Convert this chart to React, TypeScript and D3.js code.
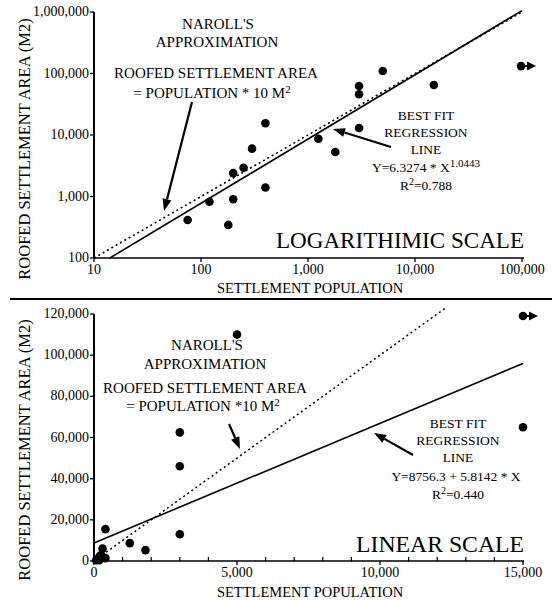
import React from "react";
import * as d3 from "d3";

// ---- Data ----
const population = [75, 120, 180, 200, 200, 250, 300, 400, 400, 1250, 1800, 3000, 3000, 3000, 5000, 15000];
const roofedArea = [415, 820, 345, 900, 2400, 2940, 6000, 1400, 15500, 8700, 5300, 13000, 46000, 62500, 110000, 65000];
// off-scale settlement (drawn at the edge with an arrow)
const outlierLog = [98000, 132000];
const outlierLinear = [15000, 119000];

const logXTicks = [10, 100, 1000, 10000, 100000];
const logYTicks = [100, 1000, 10000, 100000, 1000000];
const linXTicks = [0, 5000, 10000, 15000];
const linXMinor = [1000, 2000, 3000, 4000, 6000, 7000, 8000, 9000, 11000, 12000, 13000, 14000];
const linYTicks = [0, 20000, 40000, 60000, 80000, 100000, 120000];

// regression / Naroll's models
const narollFactor = 10;
const logFitA = 6.3274;
const logFitB = 1.0443;
const linFitA = 8756.3;
const linFitB = 5.8142;

const FONT = "'Liberation Serif', 'DejaVu Serif', serif";
const fmt = d3.format(",");

function Arrow({ x1, y1, x2, y2 }: { x1: number; y1: number; x2: number; y2: number }) {
  const ang = Math.atan2(y2 - y1, x2 - x1);
  const L = 12, W = 4.5;
  const bx = x2 - L * Math.cos(ang), by = y2 - L * Math.sin(ang);
  const px = -Math.sin(ang) * W, py = Math.cos(ang) * W;
  return (
    <g>
      <line x1={x1} y1={y1} x2={bx} y2={by} stroke="#000" strokeWidth={2.2} />
      <path d={`M${x2},${y2}L${bx + px},${by + py}L${bx - px},${by - py}Z`} fill="#000" />
    </g>
  );
}

function Outlier({ cx, cy }: { cx: number; cy: number }) {
  return (
    <g>
      <circle cx={cx} cy={cy} r={4.3} fill="#000" />
      <line x1={cx} y1={cy} x2={cx + 8} y2={cy} stroke="#000" strokeWidth={2} />
      <path d={`M${cx + 15},${cy}L${cx + 6},${cy - 4.5}L${cx + 6},${cy + 4.5}Z`} fill="#000" />
    </g>
  );
}

export default function App() {
  const left = 94, right = 522;
  // ---- Log panel ----
  const lx = d3.scaleLog().domain([10, 100000]).range([left, right]);
  const ly = d3.scaleLog().domain([100, 1000000]).range([258, 12]);
  const logLine = d3.line<number>().x((d) => lx(d)).y((d) => ly(narollFactor * d));
  const logFitStart = Math.pow(100 / logFitA, 1 / logFitB);
  const fitLogPts = [logFitStart, 100000];
  const logFit = d3.line<number>().x((d) => lx(d)).y((d) => ly(logFitA * Math.pow(d, logFitB)));

  // ---- Linear panel ----
  const nx = d3.scaleLinear().domain([0, 15000]).range([left, 523]);
  const ny = d3.scaleLinear().domain([0, 120000]).range([561, 314]);
  const linNaroll = d3.line<number>().x((d) => nx(d)).y((d) => ny(narollFactor * d));
  const linFit = d3.line<number>().x((d) => nx(d)).y((d) => ny(linFitA + linFitB * d));

  const tickFont = 14;
  const txt = { fontFamily: FONT, fill: "#000" } as const;

  return (
    <svg width={552} height={601} style={{ position: "absolute", left: 0, top: 0, background: "#fff" }}>
      <rect width={552} height={601} fill="#fff" />
      {/* ================= LOG PANEL ================= */}
      <line x1={left} y1={12} x2={left} y2={258} stroke="#000" strokeWidth={2} />
      <line x1={left} y1={258} x2={524} y2={258} stroke="#000" strokeWidth={1.5} />
      {logYTicks.map((t) => (
        <g key={t}>
          <line x1={left - 4} x2={left} y1={ly(t)} y2={ly(t)} stroke="#000" strokeWidth={1.3} />
          <text x={left - 5} y={ly(t) + 4} textAnchor="end" fontSize={tickFont} {...txt}>{fmt(t)}</text>
        </g>
      ))}
      {logXTicks.map((t) => (
        <g key={t}>
          <line x1={lx(t)} x2={lx(t)} y1={258} y2={262} stroke="#000" strokeWidth={1.3} />
          <text x={lx(t)} y={274} textAnchor="middle" fontSize={tickFont} {...txt}>{fmt(t)}</text>
        </g>
      ))}
      <text x={310} y={293} textAnchor="middle" fontSize={14.5} {...txt}>SETTLEMENT POPULATION</text>
      <text transform="translate(30,149) rotate(-90)" textAnchor="middle" fontSize={16.5} {...txt}>
        ROOFED SETTLEMENT AREA (M2)
      </text>
      <path d={logLine([10, 100000]) ?? ""} fill="none" stroke="#000" strokeWidth={1.6} strokeDasharray="2,3" />
      <path d={logFit(fitLogPts) ?? ""} fill="none" stroke="#000" strokeWidth={1.6} />
      {population.map((p, i) => (
        <circle key={i} cx={lx(p)} cy={ly(roofedArea[i])} r={4.3} fill="#000" />
      ))}
      <Outlier cx={lx(outlierLog[0])} cy={ly(outlierLog[1])} />
      <text x={218} y={29} textAnchor="middle" fontSize={15} {...txt}>NAROLL'S</text>
      <text x={217} y={47} textAnchor="middle" fontSize={15} {...txt}>APPROXIMATION</text>
      <text x={216} y={78} textAnchor="middle" fontSize={15} {...txt}>ROOFED SETTLEMENT AREA</text>
      <text x={212} y={98} textAnchor="middle" fontSize={15} {...txt}>
        = POPULATION * 10 M<tspan dy={-5} fontSize={11}>2</tspan>
      </text>
      <Arrow x1={192} y1={102} x2={164} y2={211} />
      <text x={426} y={120} textAnchor="middle" fontSize={13.5} {...txt}>BEST FIT</text>
      <text x={426} y={137} textAnchor="middle" fontSize={13.5} {...txt}>REGRESSION</text>
      <text x={426} y={154} textAnchor="middle" fontSize={13.5} {...txt}>LINE</text>
      <text x={426} y={172} textAnchor="middle" fontSize={13.5} {...txt}>
        Y=6.3274 * X<tspan dy={-5} fontSize={11}>1.0443</tspan>
      </text>
      <text x={426} y={190} textAnchor="middle" fontSize={13.5} {...txt}>
        R<tspan dy={-5} fontSize={10}>2</tspan><tspan dy={5}>=0.788</tspan>
      </text>
      <Arrow x1={391} y1={147} x2={333} y2={129} />
      <text x={524} y={248} textAnchor="end" fontSize={24} textLength={248} lengthAdjust="spacingAndGlyphs" {...txt}>
        LOGARITHIMIC SCALE
      </text>

      {/* divider */}
      <line x1={10} y1={299} x2={552} y2={299} stroke="#000" strokeWidth={2.2} />

      {/* ================= LINEAR PANEL ================= */}
      <line x1={left} y1={314} x2={left} y2={561} stroke="#000" strokeWidth={2} />
      <line x1={left} y1={561} x2={524} y2={561} stroke="#000" strokeWidth={1.5} />
      {linYTicks.map((t) => (
        <g key={t}>
          <line x1={left - 4} x2={left} y1={ny(t)} y2={ny(t)} stroke="#000" strokeWidth={1.3} />
          <text x={left - 5} y={ny(t) + 4} textAnchor="end" fontSize={tickFont} {...txt}>{fmt(t)}</text>
        </g>
      ))}
      {linXTicks.map((t) => (
        <g key={t}>
          <line x1={nx(t)} x2={nx(t)} y1={561} y2={565} stroke="#000" strokeWidth={1.3} />
          <text x={nx(t)} y={577} textAnchor="middle" fontSize={tickFont} {...txt}>{fmt(t)}</text>
        </g>
      ))}
      {linXMinor.map((t) => (
        <line key={t} x1={nx(t)} x2={nx(t)} y1={557} y2={561} stroke="#000" strokeWidth={1.2} />
      ))}
      <text x={310} y={597} textAnchor="middle" fontSize={14.5} {...txt}>SETTLEMENT POPULATION</text>
      <text transform="translate(30,450) rotate(-90)" textAnchor="middle" fontSize={16.5} {...txt}>
        ROOFED SETTLEMENT AREA (M2)
      </text>
      <path d={linNaroll([0, 12300]) ?? ""} fill="none" stroke="#000" strokeWidth={1.5} strokeDasharray="2,3" />
      <path d={linFit([0, 15000]) ?? ""} fill="none" stroke="#000" strokeWidth={1.6} />
      {population.map((p, i) => (
        <circle key={i} cx={nx(p)} cy={ny(roofedArea[i])} r={4.3} fill="#000" />
      ))}
      <Outlier cx={nx(outlierLinear[0])} cy={ny(outlierLinear[1])} />
      <text x={207} y={350} textAnchor="middle" fontSize={15} {...txt}>NAROLL'S</text>
      <text x={205} y={369} textAnchor="middle" fontSize={15} {...txt}>APPROXIMATION</text>
      <text x={205} y={393} textAnchor="middle" fontSize={15} {...txt}>ROOFED SETTLEMENT AREA</text>
      <text x={203} y={411} textAnchor="middle" fontSize={15} {...txt}>
        = POPULATION *10 M<tspan dy={-5} fontSize={11}>2</tspan>
      </text>
      <Arrow x1={229} y1={424} x2={240} y2={449} />
      <text x={458} y={428} textAnchor="middle" fontSize={13.5} {...txt}>BEST FIT</text>
      <text x={458} y={445} textAnchor="middle" fontSize={13.5} {...txt}>REGRESSION</text>
      <text x={458} y={462} textAnchor="middle" fontSize={13.5} {...txt}>LINE</text>
      <text x={456} y={481} textAnchor="middle" fontSize={13.5} {...txt}>Y=8756.3 +  5.8142 * X</text>
      <text x={458} y={499} textAnchor="middle" fontSize={13.5} {...txt}>
        R<tspan dy={-5} fontSize={10}>2</tspan><tspan dy={5}>=0.440</tspan>
      </text>
      <Arrow x1={413} y1={455} x2={374} y2={433} />
      <text x={524} y={552} textAnchor="end" fontSize={24} textLength={168} lengthAdjust="spacingAndGlyphs" {...txt}>
        LINEAR SCALE
      </text>
    </svg>
  );
}
